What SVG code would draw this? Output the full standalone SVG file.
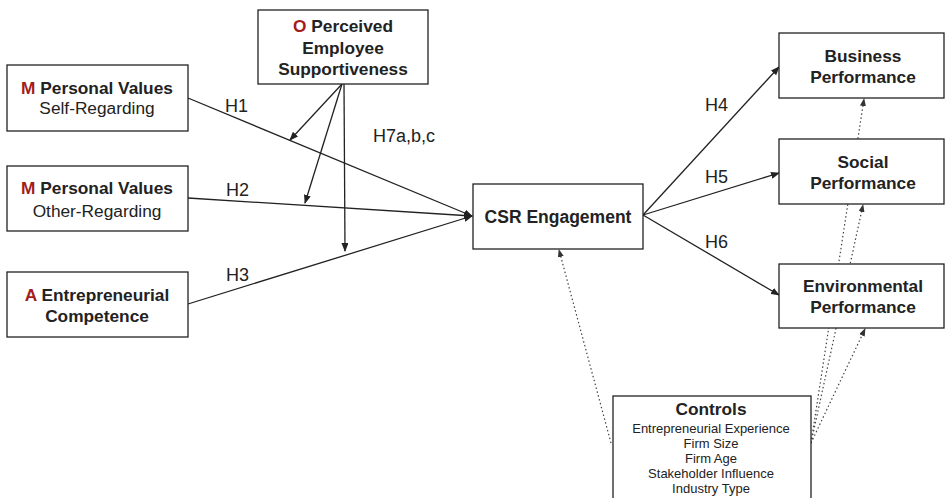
<svg xmlns="http://www.w3.org/2000/svg" width="945" height="498" viewBox="0 0 945 498">
<defs>
<marker id="ah" markerWidth="9" markerHeight="7" refX="8" refY="3.5" orient="auto" markerUnits="userSpaceOnUse"><path d="M0,0 L9,3.5 L0,7 z" fill="#222"/></marker>
<marker id="ahd" markerWidth="8" markerHeight="6" refX="7" refY="3" orient="auto" markerUnits="userSpaceOnUse"><path d="M0,0 L8,3 L0,6 z" fill="#333"/></marker>
<style>
.box{fill:#fff;stroke:#222;stroke-width:1.3}
.ln{stroke:#222;stroke-width:1.3;fill:none;marker-end:url(#ah)}
.dt{stroke:#444;stroke-width:1.2;fill:none;stroke-dasharray:1.5 2.5;marker-end:url(#ahd)}
text{font-family:"Liberation Sans",Arial,sans-serif;fill:#222;text-anchor:middle}
.b{font-weight:bold;font-size:17.3px}
.r{font-size:17.3px}
.s{font-size:13px}
.h{font-size:18px;text-anchor:start}
.red{fill:#a51b1b}
</style>
</defs>
<g id="connectors">
<line class="dt" x1="811" y1="443" x2="864" y2="99"/>
<line class="dt" x1="811" y1="443" x2="863" y2="205"/>
<line class="dt" x1="811" y1="443" x2="865" y2="329"/>
<line class="dt" x1="611" y1="443" x2="559" y2="250"/>
<line class="ln" x1="188" y1="98" x2="472" y2="216"/>
<line class="ln" x1="188" y1="198" x2="472" y2="216"/>
<line class="ln" x1="188" y1="304" x2="472" y2="216"/>
<line class="ln" x1="342" y1="84" x2="290" y2="140"/>
<line class="ln" x1="342" y1="84" x2="305" y2="203"/>
<line class="ln" x1="344" y1="84" x2="345" y2="251"/>
<line class="ln" x1="643" y1="215" x2="779" y2="67"/>
<line class="ln" x1="643" y1="215" x2="779" y2="173"/>
<line class="ln" x1="643" y1="215" x2="779" y2="295"/>
<text class="h" x="225" y="112">H1</text>
<text class="h" x="226" y="196">H2</text>
<text class="h" x="226" y="281">H3</text>
<text class="h" x="373" y="142">H7a,b,c</text>
<text class="h" x="705" y="111">H4</text>
<text class="h" x="705" y="183">H5</text>
<text class="h" x="705" y="248">H6</text>
</g>
<g id="moderator">
<rect class="box" x="258" y="10" width="170" height="74"/>
<text class="b" x="343" y="32"><tspan class="red">O</tspan> Perceived</text>
<text class="b" x="343" y="54">Employee</text>
<text class="b" x="343" y="75">Supportiveness</text>
</g>
<g id="self">
<rect class="box" x="7" y="65" width="181" height="66"/>
<text class="b" x="97" y="94"><tspan class="red">M</tspan> Personal Values</text>
<text class="r" x="97" y="114">Self-Regarding</text>
</g>
<g id="other">
<rect class="box" x="7" y="166" width="181" height="65"/>
<text class="b" x="97" y="194"><tspan class="red">M</tspan> Personal Values</text>
<text class="r" x="97" y="217">Other-Regarding</text>
</g>
<g id="competence">
<rect class="box" x="7" y="272" width="181" height="65"/>
<text class="b" x="97" y="301"><tspan class="red">A</tspan> Entrepreneurial</text>
<text class="b" x="97" y="322">Competence</text>
</g>
<g id="csr">
<rect class="box" x="473" y="184" width="170" height="65"/>
<text class="b" x="558" y="223" style="font-size:17.5px">CSR Engagement</text>
</g>
<g id="business">
<rect class="box" x="779" y="33" width="165" height="65"/>
<text class="b" x="863" y="62">Business</text>
<text class="b" x="863" y="83">Performance</text>
</g>
<g id="social">
<rect class="box" x="779" y="139" width="165" height="65"/>
<text class="b" x="863" y="168">Social</text>
<text class="b" x="863" y="189">Performance</text>
</g>
<g id="environmental">
<rect class="box" x="779" y="264" width="165" height="64"/>
<text class="b" x="863" y="292">Environmental</text>
<text class="b" x="863" y="313">Performance</text>
</g>
<g id="controls">
<rect class="box" x="613" y="396" width="198" height="110"/>
<text class="b" x="711" y="415">Controls</text>
<text class="s" x="711" y="433">Entrepreneurial Experience</text>
<text class="s" x="711" y="448">Firm Size</text>
<text class="s" x="711" y="463">Firm Age</text>
<text class="s" x="711" y="478">Stakeholder Influence</text>
<text class="s" x="711" y="493">Industry Type</text>
</g>
</svg>
